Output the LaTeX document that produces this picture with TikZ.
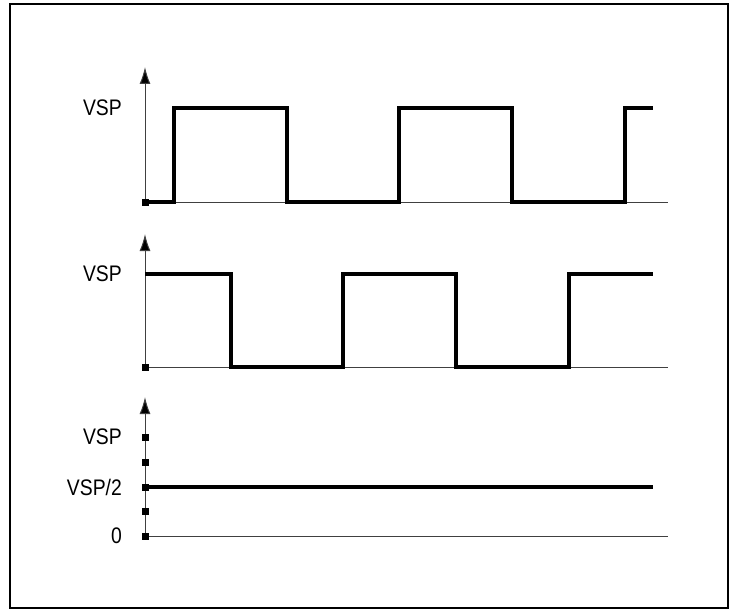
\documentclass[tikz,border=0pt]{standalone}
\usepackage{fontspec}
\setmainfont{Liberation Sans}[FakeStretch=0.86]
\usetikzlibrary{arrows.meta}
\begin{document}
\begin{tikzpicture}[x=1pt,y=-1pt,
  axisline/.style={line width=1pt,draw=black!75},
  axisarrow/.style={line width=1pt,draw=black!75,-{Latex[length=17pt,width=11pt,fill=black]}},
  wave/.style={line width=3.6pt,line join=miter,line cap=butt},
  mk/.style={fill=black,minimum size=7pt,inner sep=0pt,draw=none,rectangle},
  lbl/.style={anchor=east,inner sep=0pt,font=\fontsize{22.5}{26}\selectfont}]
\useasboundingbox (0,0) rectangle (731,610);
\draw[line width=2pt] (10,4) rectangle (728,608);
% panel 1
\coordinate (o1) at (145,202);
\coordinate (t1) at (145,67);
\coordinate (e1) at (668,202);
\draw[axisline] (o1) -- (e1);
\draw[axisarrow] (o1) -- (t1);
\draw[wave] (o1) -- (174,202) -- (174,108) -- (287,108) -- (287,202) -- (399,202) -- (399,108) -- (512,108) -- (512,202) -- (625,202) -- (625,108) -- (653,108);
\node[mk] (m1) at (o1) {};
\node[lbl] (v1) at (122,108) {VSP};
% panel 2
\coordinate (o2) at (145,367);
\coordinate (t2) at (145,234);
\coordinate (e2) at (668,367);
\draw[axisline] (o2) -- (e2);
\draw[axisarrow] (o2) -- (t2);
\draw[wave] (145,274) -- (231,274) -- (231,367) -- (343,367) -- (343,274) -- (456,274) -- (456,367) -- (569,367) -- (569,274) -- (653,274);
\node[mk] (m2) at (o2) {};
\node[lbl] (v2) at (122,274) {VSP};
% panel 3
\coordinate (o3) at (145,536);
\coordinate (t3) at (145,397);
\coordinate (e3) at (668,536);
\draw[axisline] (o3) -- (e3);
\draw[axisarrow] (o3) -- (t3);
\draw[wave] (145,487) -- (653,487);
\foreach \yy/\nm in {437/a,462/b,487/c,511/d,536/e} \node[mk] (q\nm) at (145,\yy) {};
\node[lbl] (v3) at (122,437) {VSP};
\node[lbl] (v4) at (122,487) {VSP/2};
\node[lbl] (v5) at (122,536) {0};
\end{tikzpicture}
\end{document}
